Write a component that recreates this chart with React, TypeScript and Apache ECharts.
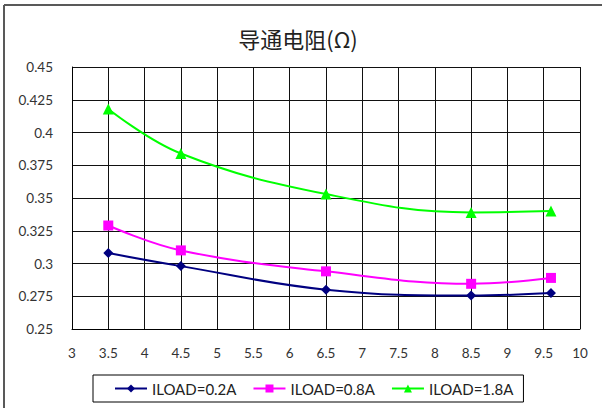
import React, { useEffect, useRef } from "react";
import * as echarts from "echarts";

const title = "导通电阻(Ω)";
const xValues = [3.5, 4.5, 6.5, 8.5, 9.6];
const seriesNames = ["ILOAD=0.2A", "ILOAD=0.8A", "ILOAD=1.8A"];
const load02 = [0.308, 0.298, 0.28, 0.2755, 0.2775];
const load08 = [0.329, 0.31, 0.294, 0.2845, 0.289];
const load18 = [0.418, 0.384, 0.353, 0.339, 0.34];
const seriesValues = [load02, load08, load18];
const colors = ["#000080", "#FF00FF", "#00FF00"];
const symbols = ["diamond", "rect", "triangle"];
const symbolSizes = [10, 10, 11];

const FONT = "Lato, 'Noto Sans', sans-serif";

export default function App() {
  const ref = useRef<HTMLDivElement>(null);
  useEffect(() => {
    if (!ref.current) return;
    const chart = echarts.init(ref.current, null, { renderer: "svg" });
    const fmt = (v: number) => String(parseFloat(v.toFixed(4)));
    chart.setOption({
      animation: false,
      backgroundColor: "#fff",
      title: {
        text: title,
        left: 293,
        textAlign: "center",
        top: 22,
        textStyle: {
          fontFamily: "'Noto Sans CJK SC', sans-serif",
          fontSize: 22,
          fontWeight: "normal",
          color: "#222",
        },
      },
      graphic: [
        {
          type: "line",
          shape: { x1: 4, y1: 5, x2: 602, y2: 5 },
          style: { stroke: "#595959", lineWidth: 2 },
        },
        {
          type: "line",
          shape: { x1: 4, y1: 5, x2: 4, y2: 408 },
          style: { stroke: "#595959", lineWidth: 2 },
        },
      ],
      grid: { left: 72, right: 22, top: 67, bottom: 79, show: false },
      xAxis: {
        type: "value",
        min: 3,
        max: 10,
        interval: 0.5,
        axisLine: { show: true, lineStyle: { color: "#000", width: 1 } },
        axisTick: { show: false },
        splitLine: { show: true, lineStyle: { color: "#111", width: 1 } },
        axisLabel: {
          margin: 17,
          fontFamily: FONT,
          fontSize: 13.5,
          color: "#333",
          formatter: fmt,
        },
      },
      yAxis: {
        type: "value",
        min: 0.25,
        max: 0.45,
        interval: 0.025,
        axisLine: { show: true, lineStyle: { color: "#000", width: 1 } },
        axisTick: { show: false },
        splitLine: { show: true, lineStyle: { color: "#111", width: 1 } },
        axisLabel: {
          margin: 19,
          fontFamily: FONT,
          fontSize: 13.5,
          color: "#333",
          formatter: fmt,
        },
      },
      legend: {
        left: 93,
        top: 375,
        orient: "horizontal",
        borderColor: "#000",
        borderWidth: 1,
        padding: [6, 10, 6, 21],
        itemGap: 16,
        itemWidth: 32,
        itemHeight: 10,
        textStyle: { fontFamily: FONT, fontSize: 15, color: "#222" },
        data: seriesNames,
      },
      series: seriesNames.map((name, i) => ({
        name,
        type: "line",
        smooth: 0.4,
        data: xValues.map((x, j) => [x, seriesValues[i][j]]),
        symbol: symbols[i],
        symbolSize: symbolSizes[i],
        itemStyle: { color: colors[i] },
        lineStyle: { color: colors[i], width: 2 },
      })),
    });
    return () => chart.dispose();
  }, []);
  return (
    <div
      ref={ref}
      style={{ position: "fixed", left: 0, top: 0, width: 602, height: 408 }}
    />
  );
}
